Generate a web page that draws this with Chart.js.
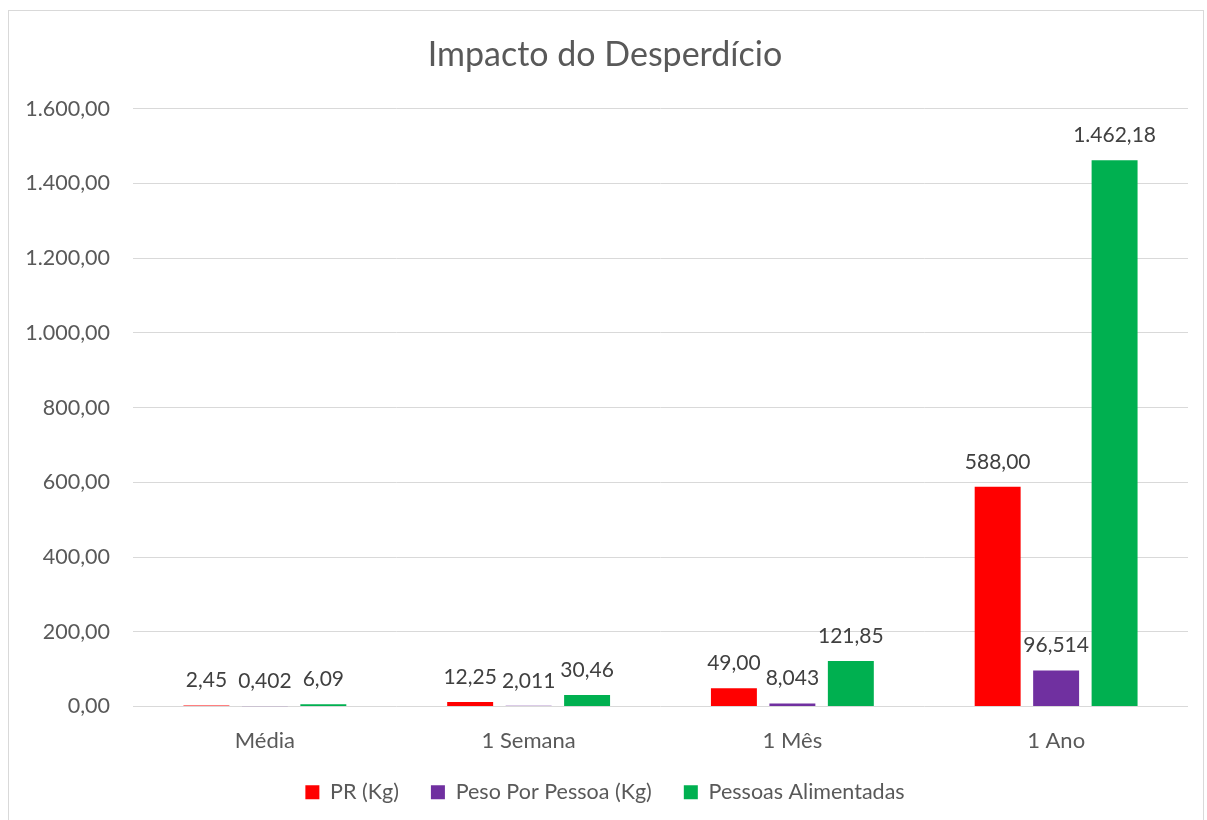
<!DOCTYPE html>
<html>
<head>
<meta charset="utf-8">
<title>Impacto do Desperdício</title>
<script src="https://cdn.jsdelivr.net/npm/chart.js@4"></script>
<style>
  html, body { margin: 0; padding: 0; background: #fff; overflow: hidden; }
  #moldura { position: absolute; left: 8px; top: 10px; width: 1196px; height: 900px; border: 1px solid #d9d9d9; box-sizing: border-box; }
  #grafico { position: absolute; left: 0; top: 0; }
</style>
</head>
<body>
<div id="moldura"></div>
<canvas id="grafico" width="1207" height="813"></canvas>
<script>
const categorias = ["Média", "1 Semana", "1 Mês", "1 Ano"];
const prKg = [2.45, 12.25, 49.0, 588.0];
const pesoPorPessoa = [0.402, 2.011, 8.043, 96.514];
const pessoasAlimentadas = [6.09, 30.46, 121.85, 1462.18];
const casasDecimais = [2, 3, 2];
const eixoMin = 0;
const eixoMax = 1600;
const eixoPasso = 200;

const FONTE = "Lato, 'Noto Sans', sans-serif";

// formato pt-BR: 1.462,18
function formatarBR(valor, casas) {
  const partes = valor.toFixed(casas).split(".");
  partes[0] = partes[0].replace(/\B(?=(\d{3})+(?!\d))/g, ".");
  return partes.join(",");
}

// rótulos acima das barras, como no Excel
const rotulosBarras = {
  id: "rotulosBarras",
  afterDatasetsDraw(chart) {
    const ctx = chart.ctx;
    ctx.save();
    ctx.font = "21px " + FONTE;
    ctx.fillStyle = "#404040";
    ctx.textAlign = "center";
    ctx.textBaseline = "middle";
    chart.data.datasets.forEach((ds, i) => {
      const meta = chart.getDatasetMeta(i);
      meta.data.forEach((bar, j) => {
        ctx.fillText(formatarBR(ds.data[j], casasDecimais[i]), bar.x, bar.y - 25);
      });
    });
    ctx.restore();
  }
};

function init() {
  const ctx = document.getElementById("grafico").getContext("2d");
  new Chart(ctx, {
    type: "bar",
    plugins: [rotulosBarras],
    data: {
      labels: categorias,
      datasets: [
        { label: "PR (Kg)", data: prKg, backgroundColor: "#ff0000" },
        { label: "Peso Por Pessoa (Kg)", data: pesoPorPessoa, backgroundColor: "#7030a0" },
        { label: "Pessoas Alimentadas", data: pessoasAlimentadas, backgroundColor: "#00b050" },
      ],
    },
    options: {
      responsive: false,
      animation: false,
      devicePixelRatio: 1,
      // um pouco de folga à esquerda para o título e a legenda ficarem mais ao centro
      layout: { padding: { left: 22, right: 19, top: 0, bottom: 0 } },
      datasets: {
        bar: { categoryPercentage: 0.665, barPercentage: 0.786 },
      },
      scales: {
        x: {
          grid: { display: false, drawTicks: false },
          border: { display: false },
          ticks: { color: "#595959", font: { family: FONTE, size: 22 }, padding: 21 },
          afterFit: (scale) => { scale.height = 43; },
        },
        y: {
          min: eixoMin,
          max: eixoMax,
          grid: { color: "#d9d9d9", drawTicks: false },
          border: { display: false },
          ticks: {
            stepSize: eixoPasso,
            color: "#595959",
            font: { family: FONTE, size: 21.5 },
            padding: 23,
            callback: (v) => formatarBR(v, 2),
          },
          afterFit: (scale) => { scale.width = 111; },
        },
      },
      plugins: {
        tooltip: { enabled: false },
        title: {
          display: true,
          text: "Impacto do Desperdício",
          color: "#595959",
          font: { family: FONTE, size: 34, weight: "normal" },
          padding: { top: 35, bottom: 33 },
        },
        legend: {
          display: true,
          position: "bottom",
          labels: {
            color: "#595959",
            font: { family: FONTE, size: 21.5 },
            boxWidth: 14,
            boxHeight: 14,
            padding: 32,
          },
        },
      },
    },
  });
}

window.onload = init;
</script>
</body>
</html>
